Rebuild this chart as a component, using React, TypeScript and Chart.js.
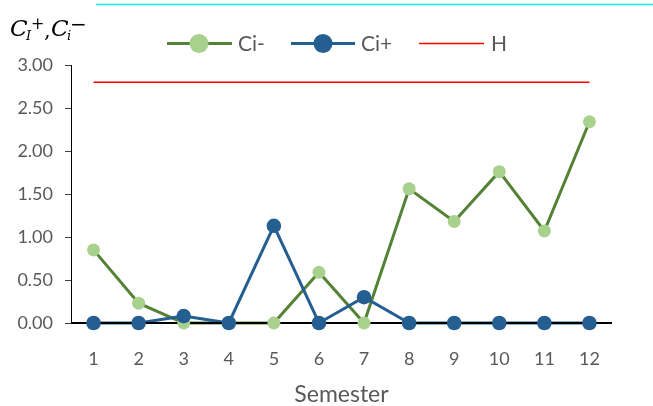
import React, { useEffect, useRef } from 'react';
import { Chart, registerables } from 'chart.js';

Chart.register(...registerables);

// Semester numbers on the category axis
const semesters = ['1', '2', '3', '4', '5', '6', '7', '8', '9', '10', '11', '12'];
// Lower CUSUM statistic per semester
const ciMinus = [0.85, 0.23, 0, 0, 0, 0.59, 0, 1.56, 1.18, 1.76, 1.07, 2.34];
// Upper CUSUM statistic per semester
const ciPlus = [0, 0, 0.08, 0, 1.13, 0, 0.3, 0, 0, 0, 0, 0];
// Decision interval
const hLimit = 2.8;
const hValues = semesters.map(() => hLimit);
const seriesNames = ['Ci-', 'Ci+', 'H'];
const yMin = 0;
const yMax = 3;
const yStep = 0.5;

const GREEN_LINE = '#548235';
const GREEN_FILL = '#A9D18E';
const BLUE = '#255E91';
const RED = '#FF0000';
const TEXT = '#595959';
const SANS = 'Lato, "Open Sans", sans-serif';
const SERIF = '"DejaVu Serif", "Liberation Serif", serif';

const decorPlugin = {
  id: 'decor',
  afterDatasetDraw(chart: any, args: any) {
    // horizontal axis line sits above the series lines but under the markers
    if (args.index !== 1) return;
    const { ctx, chartArea } = chart;
    const y0 = chart.scales.y.getPixelForValue(0);
    ctx.save();
    ctx.strokeStyle = '#000';
    ctx.lineWidth = 2;
    ctx.beginPath();
    ctx.moveTo(chartArea.left, y0);
    ctx.lineTo(chartArea.right, y0);
    ctx.stroke();
    ctx.restore();
  },
  afterDraw(chart: any) {
    const { ctx, chartArea } = chart;
    ctx.save();

    // thin cyan rule along the top
    ctx.strokeStyle = '#10F0F0';
    ctx.lineWidth = 1.5;
    ctx.beginPath();
    ctx.moveTo(96, 4.5);
    ctx.lineTo(653, 4.5);
    ctx.stroke();

    // axis title: C_I^+ , C_i^-
    ctx.fillStyle = '#000';
    ctx.textBaseline = 'alphabetic';
    ctx.textAlign = 'left';
    ctx.font = `italic 23px ${SERIF}`;
    ctx.fillText('C', 10, 36);
    ctx.font = `italic 13px ${SERIF}`;
    ctx.fillText('I', 26, 40);
    ctx.font = `16px ${SERIF}`;
    ctx.fillText('+', 31, 29);
    ctx.font = `21px ${SERIF}`;
    ctx.fillText(',', 44, 37);
    ctx.font = `italic 23px ${SERIF}`;
    ctx.fillText('C', 51, 36);
    ctx.font = `italic 13px ${SERIF}`;
    ctx.fillText('i', 67, 40);
    ctx.font = `20px ${SERIF}`;
    ctx.fillText('\u2212', 70, 31);

    // legend
    const ly = 43.5;
    const items = [
      { name: seriesNames[0], line: GREEN_LINE, fill: GREEN_FILL, x0: 167, x1: 232, mx: 199, tx: 238, w: 3 },
      { name: seriesNames[1], line: BLUE, fill: BLUE, x0: 291, x1: 355, mx: 323, tx: 361, w: 3 },
      { name: seriesNames[2], line: RED, fill: null, x0: 419, x1: 484, mx: 0, tx: 491, w: 1.5 },
    ];
    items.forEach((it) => {
      ctx.strokeStyle = it.line;
      ctx.lineWidth = it.w;
      ctx.beginPath();
      ctx.moveTo(it.x0, ly);
      ctx.lineTo(it.x1, ly);
      ctx.stroke();
      if (it.fill) {
        ctx.fillStyle = it.fill;
        ctx.beginPath();
        ctx.arc(it.mx, ly, 9.5, 0, Math.PI * 2);
        ctx.fill();
      }
      ctx.fillStyle = TEXT;
      ctx.font = `21px ${SANS}`;
      ctx.textAlign = 'left';
      ctx.textBaseline = 'alphabetic';
      ctx.fillText(it.name, it.tx, 51);
    });

    // category axis title
    ctx.fillStyle = TEXT;
    ctx.font = `23px ${SANS}`;
    ctx.textAlign = 'center';
    ctx.textBaseline = 'alphabetic';
    ctx.fillText('Semester', (chartArea.left + chartArea.right) / 2, 401.5);

    ctx.restore();
  },
};

export default function App() {
  const canvasRef = useRef<HTMLCanvasElement | null>(null);

  useEffect(() => {
    if (!canvasRef.current) return;
    const chart = new Chart(canvasRef.current, {
      type: 'line',
      data: {
        labels: semesters,
        datasets: [
          {
            label: seriesNames[0],
            data: ciMinus,
            borderColor: GREEN_LINE,
            borderWidth: 3,
            pointRadius: 0,
            fill: false,
            order: 4,
            clip: false,
          },
          {
            label: seriesNames[1],
            data: ciPlus,
            borderColor: BLUE,
            borderWidth: 3,
            pointRadius: 0,
            fill: false,
            order: 3,
            clip: false,
          },
          {
            label: seriesNames[2],
            data: hValues,
            borderColor: RED,
            borderWidth: 1.5,
            pointRadius: 0,
            fill: false,
            order: 5,
            clip: false,
          },
          {
            label: seriesNames[0] + ' markers',
            data: ciMinus,
            showLine: false,
            pointRadius: 6.5,
            pointBorderWidth: 0,
            pointBackgroundColor: GREEN_FILL,
            pointBorderColor: GREEN_FILL,
            order: 2,
            clip: false,
          },
          {
            label: seriesNames[1] + ' markers',
            data: ciPlus,
            showLine: false,
            pointRadius: 7.3,
            pointBorderWidth: 0,
            pointBackgroundColor: BLUE,
            pointBorderColor: BLUE,
            order: 1,
            clip: false,
          },
        ],
      },
      options: {
        responsive: false,
        animation: false,
        devicePixelRatio: 1,
        layout: { padding: { top: 65, right: 41, left: 0, bottom: 0 } },
        plugins: {
          legend: { display: false },
          tooltip: { enabled: false },
          title: { display: false },
        },
        scales: {
          x: {
            type: 'category',
            offset: true,
            grid: { display: false, drawTicks: false },
            border: { display: false },
            ticks: {
              color: TEXT,
              font: { family: SANS, size: 18 },
              padding: 25,
              maxRotation: 0,
              autoSkip: false,
            },
            afterFit: (s: any) => {
              s.height = 83;
            },
          },
          y: {
            min: yMin,
            max: yMax,
            grid: {
              display: true,
              drawOnChartArea: false,
              drawTicks: true,
              tickLength: 6,
              color: '#404040',
            },
            border: { display: true, color: '#000', width: 1 },
            ticks: {
              stepSize: yStep,
              color: TEXT,
              font: { family: SANS, size: 18 },
              padding: 12,
              callback: (v: any) => Number(v).toFixed(2),
            },
            afterFit: (s: any) => {
              s.width = 71;
            },
          },
        },
      },
      plugins: [decorPlugin],
    } as any);
    return () => chart.destroy();
  }, []);

  return (
    <div style={{ position: 'absolute', left: 0, top: 0, width: 653, height: 406, background: '#fff' }}>
      <canvas ref={canvasRef} width={653} height={406} style={{ display: 'block' }} />
    </div>
  );
}
